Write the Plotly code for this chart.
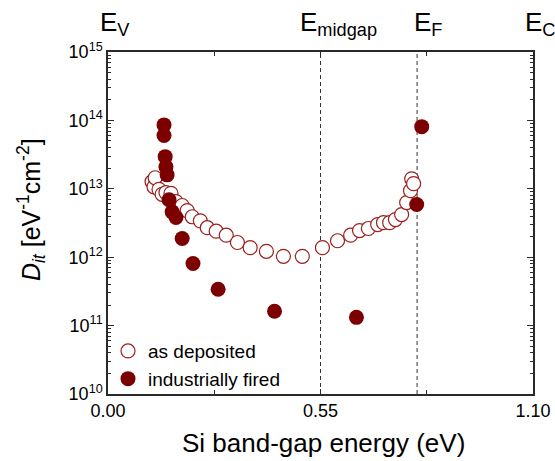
import plotly.graph_objects as go

# Interface trap density across the Si band gap
as_dep_energy = [0.114, 0.119, 0.122, 0.132, 0.140, 0.150, 0.163, 0.176, 0.192, 0.205,
                 0.218, 0.239, 0.257, 0.280, 0.306, 0.335, 0.368, 0.410, 0.454, 0.503,
                 0.555, 0.594, 0.628, 0.651, 0.674, 0.698, 0.713, 0.729, 0.744, 0.760,
                 0.773, 0.783, 0.786, 0.791]
as_dep_dit = [1.27e13, 1.07e13, 1.45e13, 9.8e12, 8.3e12, 8.8e12, 8.6e12, 6.5e12, 5.7e12, 4.8e12,
              3.9e12, 3.4e12, 2.7e12, 2.4e12, 2.1e12, 1.64e12, 1.38e12, 1.22e12, 1.03e12, 1.03e12,
              1.38e12, 1.74e12, 2.1e12, 2.45e12, 2.63e12, 3.0e12, 3.2e12, 3.2e12, 3.55e12, 4.2e12,
              6.3e12, 9.4e12, 1.4e13, 1.19e13]

fired_energy = [0.145, 0.145, 0.148, 0.150, 0.153, 0.158, 0.166, 0.176, 0.192, 0.220,
                0.285, 0.431, 0.643, 0.812, 0.799]
fired_dit = [8.6e13, 6.0e13, 2.95e13, 2.1e13, 1.6e13, 6.9e12, 4.6e12, 3.8e12, 1.88e12, 8.1e11,
             3.4e11, 1.62e11, 1.32e11, 8.1e13, 5.9e12]

# Reference energies in the gap (eV)
E_V = 0.0
E_MIDGAP = 0.55
E_F = 0.80
E_C = 1.10

x_tick_vals = [0.0, 0.55, 1.10]
x_tick_text = ["0.00", "0.55", "1.10"]
x_minor_vals = [0.275, 0.825]
decades = [10, 11, 12, 13, 14, 15]

FONT = "Liberation Sans, Arial, sans-serif"
AXIS_COLOR = "#2a2a2a"

fig = go.Figure()

fig.add_trace(go.Scatter(
    x=as_dep_energy, y=as_dep_dit, mode="markers", name="as deposited",
    marker=dict(symbol="circle", size=14, color="white",
                line=dict(color="#9a1f1f", width=1.2)),
))
fig.add_trace(go.Scatter(
    x=fired_energy, y=fired_dit, mode="markers", name="industrially fired",
    marker=dict(symbol="circle", size=15, color="#7d0000", line=dict(width=0)),
))

for e in (E_MIDGAP, E_F):
    fig.add_shape(type="line", xref="x", yref="paper", x0=e, x1=e, y0=0, y1=1,
                  line=dict(color="#333333", width=1, dash="4px,3px"), layer="below")

top_labels = [
    (E_V, "E<sub>V</sub>", -10),
    (E_MIDGAP, "E<sub>midgap</sub>", -23),
    (E_F, "E<sub>F</sub>", -5),
    (E_C, "E<sub>C</sub>", -10),
]
for e, txt, dx in top_labels:
    fig.add_annotation(x=e, y=1, xref="x", yref="paper", text=txt, showarrow=False,
                       xanchor="left", yanchor="bottom", xshift=dx, yshift=10,
                       font=dict(family=FONT, size=26, color="black"))

# axis titles
fig.add_annotation(x=0.508, y=-0.143, xref="paper", yref="paper",
                   text="Si band-gap energy (eV)", showarrow=False,
                   xanchor="center", yanchor="middle",
                   font=dict(family=FONT, size=26, color="black"))
fig.add_annotation(x=-0.181, y=0.538, xref="paper", yref="paper",
                   text="<i>D</i><sub><i>it</i></sub> [eV<sup>-1</sup>cm<sup>-2</sup>]",
                   showarrow=False, textangle=-90, xanchor="center", yanchor="middle",
                   font=dict(family=FONT, size=25, color="black"))

minor_y = [k * 10 ** d for d in decades[:-1] for k in range(2, 10)]

fig.update_xaxes(
    range=[0, 1.10], tickmode="array", tickvals=x_tick_vals, ticktext=x_tick_text,
    ticks="inside", ticklen=5, tickwidth=1.2, tickcolor=AXIS_COLOR,
    minor=dict(tickmode="array", tickvals=x_minor_vals, ticks="inside", ticklen=4,
               tickwidth=1.2, tickcolor=AXIS_COLOR, showgrid=False),
    showline=True, linecolor=AXIS_COLOR, linewidth=1.5, mirror="allticks",
    showgrid=False, zeroline=False, automargin=False,
    tickfont=dict(family=FONT, size=18, color="black"),
)
fig.update_yaxes(
    type="log", range=[10, 15], tickmode="array",
    tickvals=[10 ** d for d in decades],
    ticktext=[f"10<sup>{d}</sup>" for d in decades],
    ticks="inside", ticklen=6, tickwidth=1.2, tickcolor=AXIS_COLOR,
    minor=dict(tickmode="array", tickvals=minor_y, ticks="inside", ticklen=3,
               tickwidth=1, tickcolor=AXIS_COLOR, showgrid=False),
    showline=True, linecolor=AXIS_COLOR, linewidth=1.5, mirror="allticks",
    showgrid=False, zeroline=False, automargin=False,
    tickfont=dict(family=FONT, size=18, color="black"),
)

fig.update_layout(
    width=555, height=461,
    margin=dict(l=108, r=22, t=52, b=67, autoexpand=False),
    paper_bgcolor="white", plot_bgcolor="white",
    showlegend=True,
    legend=dict(x=0.0, y=-0.012, xanchor="left", yanchor="bottom",
                bgcolor="rgba(0,0,0,0)", borderwidth=0,
                font=dict(family=FONT, size=19, color="black"),
                tracegroupgap=0, itemsizing="trace"),
    font=dict(family=FONT),
)

fig.write_html("out.html")
